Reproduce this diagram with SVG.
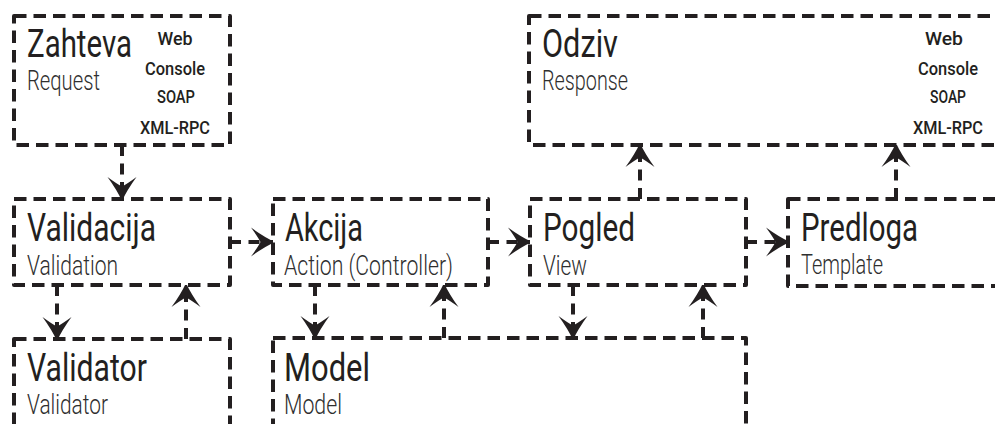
<svg xmlns="http://www.w3.org/2000/svg" width="995" height="424" viewBox="0 0 995 424">
  <style>
    .box { fill: #ffffff; stroke: #231f20; stroke-width: 4; stroke-dasharray: 12.5 7; stroke-linejoin: round; }
    .link { fill: none; stroke: #231f20; stroke-width: 4; stroke-dasharray: 11 7.5; marker-end: url(#head); }
    .title { font-family: Roboto, "DejaVu Sans", sans-serif; font-weight: 400; font-size: 38px; fill: #231f20; }
    .sub { font-family: Roboto, "DejaVu Sans", sans-serif; font-weight: 300; font-size: 28px; fill: #2f2f2f; }
    .chan { font-family: Roboto, "DejaVu Sans", sans-serif; font-size: 19px; font-weight: 500; fill: #231f20; text-anchor: middle; }
  </style>
  <defs>
    <marker id="head" markerUnits="userSpaceOnUse" viewBox="-25 -16 27 32" refX="0" refY="0" markerWidth="27" markerHeight="32" orient="auto">
      <path d="M0,0 Q-11,-5 -24,-14.5 Q-17,-5 -14.5,0 Q-17,5 -24,14.5 Q-11,5 0,0 Z" fill="#231f20"/>
    </marker>
  </defs>

  <!-- connectors -->
  <g id="connectors">
    <path class="link" d="M122,145 V201"/>
    <path class="link" d="M57,285 V341"/>
    <path class="link" d="M186,339 V283"/>
    <path class="link" d="M230,242 H275"/>
    <path class="link" d="M488,242 H532"/>
    <path class="link" d="M746,242 H790"/>
    <path class="link" d="M315,285 V340"/>
    <path class="link" d="M444,338 V283"/>
    <path class="link" d="M573,285 V340"/>
    <path class="link" d="M703,338 V283"/>
    <path class="link" d="M640,199 V143"/>
    <path class="link" d="M896,199 V143"/>
  </g>

  <!-- request -->
  <g id="zahteva">
    <rect class="box" x="14" y="16" width="216" height="129"/>
    <text class="title" transform="translate(27,57) scale(0.78,1)" textLength="134.6" lengthAdjust="spacingAndGlyphs">Zahteva</text>
    <text class="sub" transform="translate(27,90) scale(0.75,1)" textLength="97.3" lengthAdjust="spacingAndGlyphs">Request</text>
    <text class="chan" transform="translate(175,45) scale(0.88,1)" textLength="39.8" lengthAdjust="spacingAndGlyphs">Web</text>
    <text class="chan" transform="translate(175,75) scale(0.88,1)" textLength="68.2" lengthAdjust="spacingAndGlyphs">Console</text>
    <text class="chan" transform="translate(176,103) scale(0.88,1)" textLength="43.2" lengthAdjust="spacingAndGlyphs">SOAP</text>
    <text class="chan" transform="translate(175,134) scale(0.88,1)" textLength="79.5" lengthAdjust="spacingAndGlyphs">XML-RPC</text>
  </g>

  <!-- response -->
  <g id="odziv">
    <rect class="box" x="529" y="16" width="480" height="129"/>
    <text class="title" transform="translate(542,57) scale(0.78,1)" textLength="97.4" lengthAdjust="spacingAndGlyphs">Odziv</text>
    <text class="sub" transform="translate(542,90) scale(0.75,1)" textLength="114.7" lengthAdjust="spacingAndGlyphs">Response</text>
    <text class="chan" transform="translate(944,45) scale(0.88,1)" textLength="43.2" lengthAdjust="spacingAndGlyphs">Web</text>
    <text class="chan" transform="translate(948,75) scale(0.88,1)" textLength="68.2" lengthAdjust="spacingAndGlyphs">Console</text>
    <text class="chan" transform="translate(948,103) scale(0.88,1)" textLength="40.9" lengthAdjust="spacingAndGlyphs">SOAP</text>
    <text class="chan" transform="translate(948,134) scale(0.88,1)" textLength="79.5" lengthAdjust="spacingAndGlyphs">XML-RPC</text>
  </g>

  <!-- validation -->
  <g id="validacija">
    <rect class="box" x="14" y="199" width="216" height="86"/>
    <text class="title" transform="translate(27,241) scale(0.78,1)" textLength="165.4" lengthAdjust="spacingAndGlyphs">Validacija</text>
    <text class="sub" transform="translate(27,275) scale(0.75,1)" textLength="121.3" lengthAdjust="spacingAndGlyphs">Validation</text>
  </g>

  <!-- action -->
  <g id="akcija">
    <rect class="box" x="273" y="199" width="215" height="86"/>
    <text class="title" transform="translate(285,241) scale(0.78,1)" textLength="100" lengthAdjust="spacingAndGlyphs">Akcija</text>
    <text class="sub" transform="translate(284,275) scale(0.75,1)" textLength="225.3" lengthAdjust="spacingAndGlyphs">Action (Controller)</text>
  </g>

  <!-- view -->
  <g id="pogled">
    <rect class="box" x="530" y="199" width="216" height="86"/>
    <text class="title" transform="translate(543,241) scale(0.78,1)" textLength="117.9" lengthAdjust="spacingAndGlyphs">Pogled</text>
    <text class="sub" transform="translate(543,275) scale(0.75,1)" textLength="58.7" lengthAdjust="spacingAndGlyphs">View</text>
  </g>

  <!-- template -->
  <g id="predloga">
    <rect class="box" x="788" y="199" width="230" height="87"/>
    <text class="title" transform="translate(801,241) scale(0.78,1)" textLength="150" lengthAdjust="spacingAndGlyphs">Predloga</text>
    <text class="sub" transform="translate(801,274) scale(0.75,1)" textLength="109.3" lengthAdjust="spacingAndGlyphs">Template</text>
  </g>

  <!-- validator -->
  <g id="validator">
    <rect class="box" x="14" y="339" width="216" height="100"/>
    <text class="title" transform="translate(27,381) scale(0.78,1)" textLength="153.8" lengthAdjust="spacingAndGlyphs">Validator</text>
    <text class="sub" transform="translate(27,414) scale(0.75,1)" textLength="108" lengthAdjust="spacingAndGlyphs">Validator</text>
  </g>

  <!-- model -->
  <g id="model">
    <rect class="box" x="273" y="338" width="473" height="100"/>
    <text class="title" transform="translate(284,381) scale(0.78,1)" textLength="110.3" lengthAdjust="spacingAndGlyphs">Model</text>
    <text class="sub" transform="translate(284,414) scale(0.75,1)" textLength="77.3" lengthAdjust="spacingAndGlyphs">Model</text>
  </g>
</svg>
